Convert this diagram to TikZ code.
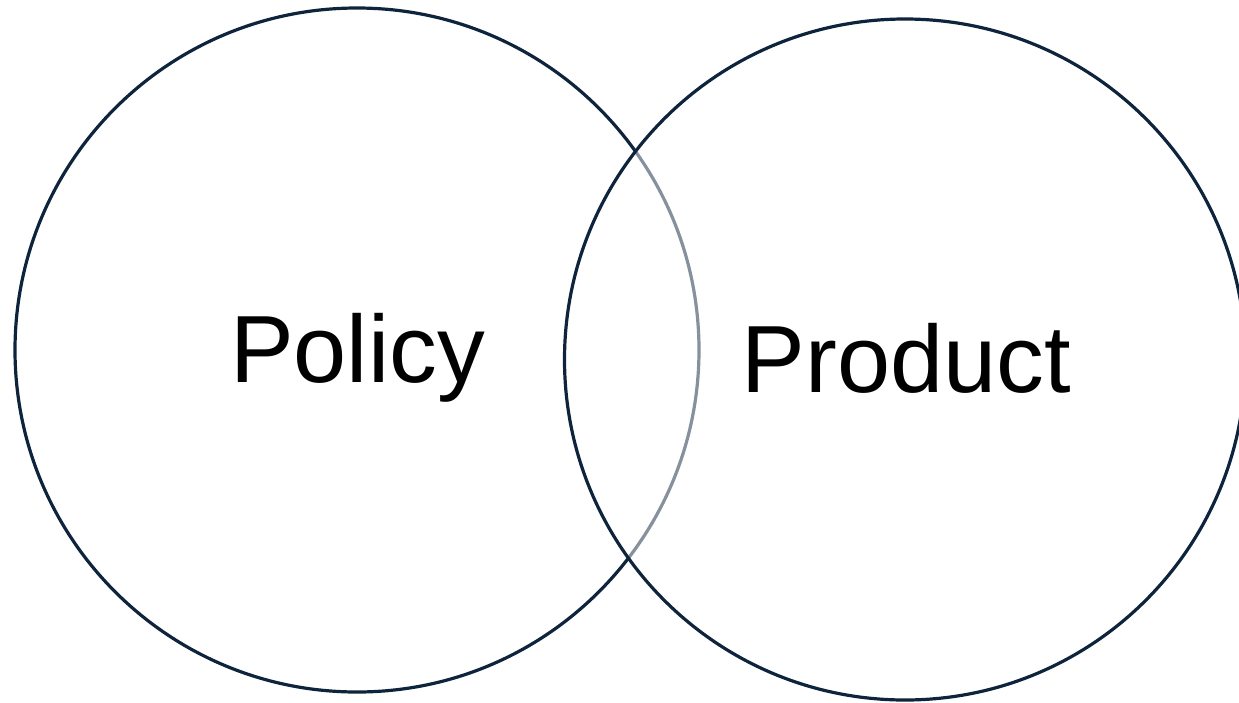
\documentclass[tikz,border=0pt]{standalone}
\usepackage{fontspec}
\setmainfont{Liberation Sans}
\definecolor{navy}{RGB}{14,36,60}
\begin{document}
\begin{tikzpicture}[x=1pt,y=-1pt,
  ring/.style={draw=navy,line width=3.2pt},
  lbl/.style={font=\fontsize{95.5}{100}\selectfont,anchor=base,inner sep=0pt}]
\useasboundingbox (0,0) rectangle (1239,702);
\begin{scope}
\clip (0,0) rectangle (1239,702);
\node[ring,circle,minimum size=684pt,inner sep=0pt,fill=white] (policy) at (357,350) {};
\node[ring,circle,minimum size=681pt,inner sep=0pt,fill=white,fill opacity=0.5] (product) at (905,359.5) {};
\end{scope}
\node[lbl] (policytext) at (357.5,382) {Policy};
\node[lbl] (producttext) at (906.5,392) {Product};
\end{tikzpicture}
\end{document}
